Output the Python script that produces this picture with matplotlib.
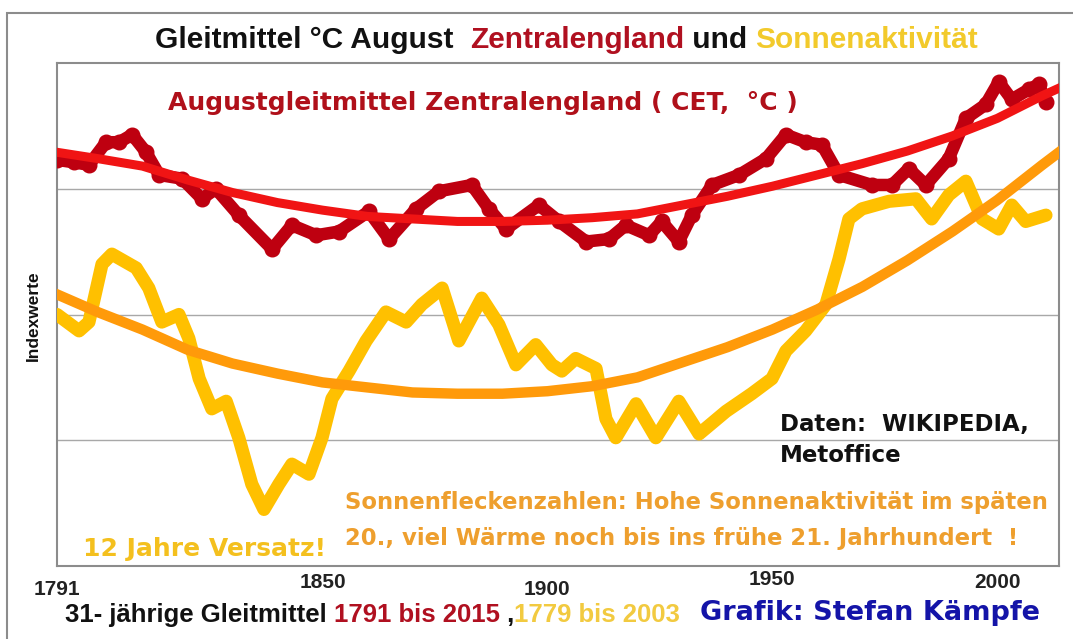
import numpy as np
import matplotlib.pyplot as plt
from matplotlib.patches import Rectangle
from matplotlib.transforms import ScaledTranslation

# 31-jaehrige Gleitmittel, Index-Einheiten
cet_years = [1791.0, 1794.8, 1798.1, 1801.9, 1804.8, 1807.7, 1810.8, 1813.7, 1818.8, 1823.2,
             1826.3, 1831.4, 1838.8, 1843.2, 1848.6, 1853.7, 1860.3, 1864.8, 1870.8, 1875.9,
             1883.2, 1887.0, 1890.8, 1898.1, 1902.6, 1908.6, 1913.7, 1917.4, 1922.6, 1925.4,
             1929.2, 1932.1, 1936.6, 1942.6, 1948.6, 1953.0, 1957.4, 1961.0, 1964.8, 1972.1,
             1976.6, 1980.3, 1984.1, 1989.2, 1993.0, 1997.4, 2000.3, 2003.2, 2007.0, 2009.2,
             2010.8]
cet_values = [3.23, 3.21, 3.19, 3.37, 3.37, 3.43, 3.29, 3.11, 3.08, 2.92,
              3.00, 2.79, 2.52, 2.71, 2.63, 2.66, 2.82, 2.60, 2.84, 2.98,
              3.03, 2.84, 2.68, 2.87, 2.74, 2.58, 2.60, 2.71, 2.63, 2.74,
              2.58, 2.79, 3.03, 3.11, 3.24, 3.43, 3.37, 3.35, 3.11, 3.03,
              3.03, 3.16, 3.03, 3.24, 3.56, 3.67, 3.85, 3.71, 3.79, 3.83,
              3.69]

trend_years = [1791, 1800, 1810, 1820, 1830, 1840, 1850, 1860, 1870, 1880, 1890, 1900,
               1910, 1920, 1930, 1940, 1950, 1960, 1970, 1980, 1990, 2000, 2010, 2013.7]
cet_trend = [3.29, 3.24, 3.18, 3.07, 2.97, 2.89, 2.83, 2.78, 2.76, 2.74, 2.74, 2.75,
             2.77, 2.80, 2.87, 2.94, 3.02, 3.11, 3.20, 3.30, 3.42, 3.56, 3.74, 3.80]

sun_years = [1791.0, 1795.9, 1798.1, 1801.0, 1803.2, 1808.6, 1811.4, 1814.3, 1818.1, 1820.3,
             1822.6, 1825.4, 1828.6, 1831.4, 1834.3, 1837.0, 1840.3, 1843.2, 1847.0, 1849.9,
             1852.1, 1855.9, 1859.7, 1864.1, 1868.6, 1872.1, 1876.6, 1880.3, 1885.4, 1889.2,
             1893.0, 1897.4, 1901.0, 1903.2, 1906.3, 1910.8, 1913.0, 1915.2, 1919.7, 1924.1,
             1929.2, 1933.7, 1939.7, 1945.4, 1949.9, 1953.0, 1957.4, 1961.9, 1964.8, 1967.0,
             1969.9, 1975.9, 1981.9, 1985.4, 1989.2, 1993.0, 1996.6, 2000.3, 2003.2, 2006.3,
             2010.8]
sun_values = [2.00, 1.87, 1.94, 2.40, 2.48, 2.37, 2.21, 1.94, 2.00, 1.81,
              1.49, 1.25, 1.31, 1.02, 0.65, 0.45, 0.65, 0.81, 0.73, 1.02,
              1.33, 1.55, 1.79, 2.02, 1.94, 2.08, 2.21, 1.79, 2.13, 1.92,
              1.60, 1.76, 1.60, 1.55, 1.65, 1.57, 1.17, 1.02, 1.29, 1.02,
              1.31, 1.05, 1.23, 1.37, 1.49, 1.71, 1.87, 2.08, 2.44, 2.76,
              2.84, 2.90, 2.92, 2.76, 2.95, 3.06, 2.76, 2.68, 2.87, 2.74,
              2.79]

sun_trend = [2.16, 2.02, 1.88, 1.72, 1.61, 1.53, 1.46, 1.42, 1.38, 1.37, 1.37, 1.39,
             1.43, 1.50, 1.62, 1.74, 1.88, 2.04, 2.22, 2.43, 2.66, 2.91, 3.19, 3.29]

tick_years = [1791, 1850, 1900, 1950, 2000]
tick_shift = [-3, 4, -3, 7, 4]   # labels sit a bit uneven in the original

W, H = 1073, 639
def px(x, y):
    return x / W, 1 - y / H

narrow = ['Liberation Sans Narrow', 'Liberation Sans', 'DejaVu Sans']
heavy = ['DejaVu Sans']

fig = plt.figure(figsize=(W / 100, H / 100), dpi=100)
ax = fig.add_axes([57 / W, 1 - 566 / H, 1002 / W, 503 / H])

ax.plot(cet_years, cet_values, color='#BE0010', lw=9, marker='o', ms=10.5,
        solid_joinstyle='round', solid_capstyle='round', zorder=3)
ax.plot(trend_years, cet_trend, color='#F01414', lw=6.5, solid_joinstyle='round', zorder=4)
ax.plot(sun_years, sun_values, color='#FFC000', lw=9.5,
        solid_joinstyle='round', solid_capstyle='round', zorder=3)
ax.plot(trend_years, sun_trend, color='#FF9A0A', lw=7.5, solid_joinstyle='round', zorder=4)

ax.set_xlim(1791, 2013.7)
ax.set_ylim(0, 4)
ax.set_yticks([1, 2, 3])
ax.yaxis.grid(True, color='#a8a8a8', lw=1)
ax.tick_params(axis='y', length=0, labelleft=False)
ax.set_xticks(tick_years)
ax.set_xticklabels([str(y) for y in tick_years], family=narrow, fontweight='bold',
                   fontsize=15, color='#222222')
ax.tick_params(axis='x', length=0, pad=8)
for lab, dy in zip(ax.get_xticklabels(), tick_shift):
    lab.set_transform(lab.get_transform() + ScaledTranslation(0, dy / 100, fig.dpi_scale_trans))
for s in ax.spines.values():
    s.set_color('#8c8c8c')
    s.set_linewidth(1.5)

# outer frame
fig.add_artist(Rectangle((7 / W, -0.05), 1.2, 1 - 13 / H + 0.05, transform=fig.transFigure,
                         fill=False, ec='#8c8c8c', lw=1.5))

def chain(parts, x, y, **kw):
    t = fig.text(x, y, parts[0][0], color=parts[0][1], va='bottom', ha='left', **kw)
    for s, c in parts[1:]:
        t = ax.annotate(s, xy=(1, 0), xycoords=t, va='bottom', ha='left', color=c,
                        annotation_clip=False, **kw)
    return t

# title
chain([('Gleitmittel °C August  ', '#111111'), ('Zentralengland', '#B01020'),
       (' und ', '#111111'), ('Sonnenaktivität', '#F2CA2C')],
      *px(155, 54), family=narrow, fontsize=21.5, fontweight='bold')

# bottom line
chain([('31- jährige Gleitmittel ', '#111111'), ('1791 bis 2015', '#B01020'),
       (' ,', '#111111'), ('1779 bis 2003', '#F2CA40')],
      *px(65, 627), family=narrow, fontsize=18.5, fontweight='bold')
fig.text(*px(700, 613), 'Grafik: Stefan Kämpfe', color='#1414A8', family=heavy,
         fontweight='bold', fontsize=19.5, va='center', ha='left')

fig.text(*px(33, 316), 'Indexwerte', rotation=90, family=narrow, fontweight='bold',
         fontsize=12.5, va='center', ha='center', color='#111111')

fig.text(*px(168, 103), 'Augustgleitmittel Zentralengland ( CET,  °C )', color='#B0101A',
         family=heavy, fontweight='bold', fontsize=18, va='center', ha='left')
fig.text(*px(780, 424), 'Daten:  WIKIPEDIA,', color='#111111', family=heavy,
         fontweight='bold', fontsize=16.5, va='center', ha='left')
fig.text(*px(780, 455), 'Metoffice', color='#111111', family=heavy,
         fontweight='bold', fontsize=16.5, va='center', ha='left')
fig.text(*px(345, 503), 'Sonnenfleckenzahlen: Hohe Sonnenaktivität im späten', color='#EE9F2E',
         family=heavy, fontweight='bold', fontsize=16.4, va='center', ha='left')
fig.text(*px(345, 538), '20., viel Wärme noch bis ins frühe 21. Jahrhundert  !', color='#EE9F2E',
         family=heavy, fontweight='bold', fontsize=16.4, va='center', ha='left')
fig.text(*px(83, 549), '12 Jahre Versatz!', color='#F4C01E', family=heavy,
         fontweight='bold', fontsize=18, va='center', ha='left')

fig.savefig('out.png', dpi=100)
